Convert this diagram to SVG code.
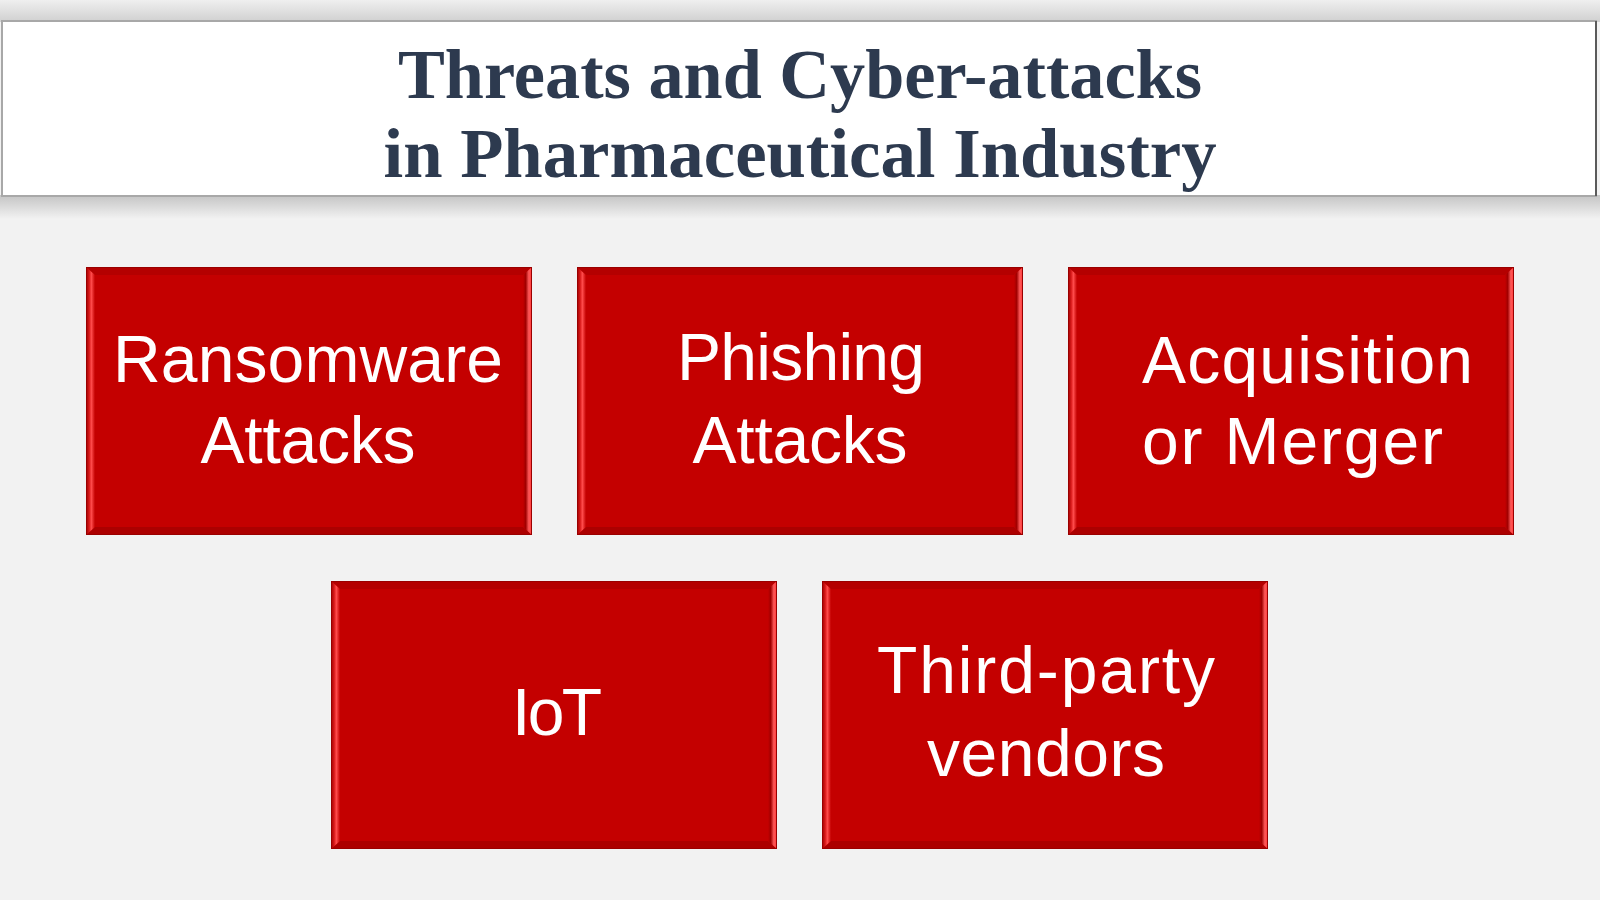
<svg xmlns="http://www.w3.org/2000/svg" xmlns:xlink="http://www.w3.org/1999/xlink" width="1600" height="900" viewBox="0 0 1600 900">
  <style>
    .title { font-family: "Liberation Serif", "Times New Roman", serif; font-weight: bold; font-size: 70px; fill: #2D3A4F; text-anchor: middle; }
    .lbl { font-family: "Liberation Sans", Arial, sans-serif; font-size: 66px; fill: #FFFFFF; text-anchor: middle; }
    .lbl-start { text-anchor: start; }
  </style>
  <defs>
    <linearGradient id="topShade" x1="0" y1="0" x2="0" y2="1">
      <stop offset="0" stop-color="#EFEFEF"/>
      <stop offset="1" stop-color="#D0D0D0"/>
    </linearGradient>
    <linearGradient id="botShade" x1="0" y1="0" x2="0" y2="1">
      <stop offset="0" stop-color="#C4C4C4"/>
      <stop offset="1" stop-color="#F2F2F2"/>
    </linearGradient>
    <linearGradient id="bevL" x1="0" y1="0" x2="1" y2="0">
      <stop offset="0" stop-color="#9C0000"/>
      <stop offset="0.35" stop-color="#D81818"/>
      <stop offset="0.6" stop-color="#FF4C4C"/>
      <stop offset="1" stop-color="#C40000"/>
    </linearGradient>
    <linearGradient id="bevR" x1="0" y1="0" x2="1" y2="0">
      <stop offset="0" stop-color="#C40000"/>
      <stop offset="0.3" stop-color="#A00000"/>
      <stop offset="0.65" stop-color="#FF5A5A"/>
      <stop offset="0.9" stop-color="#FF4040"/>
      <stop offset="1" stop-color="#B00000"/>
    </linearGradient>
    <symbol id="tile" viewBox="0 0 446 268" preserveAspectRatio="none">
      <rect x="0" y="0" width="446" height="268" fill="#C40000"/>
      <polygon points="0,0 446,0 437,8 9,8" fill="#B40000"/>
      <polygon points="0,268 446,268 437,260 9,260" fill="#AC0000"/>
      <polygon points="0,0 9,8 9,260 0,268" fill="url(#bevL)"/>
      <polygon points="446,0 437,8 437,260 446,268" fill="url(#bevR)"/>
      <rect x="0.5" y="0.5" width="445" height="267" fill="none" stroke="#9A0000" stroke-width="1"/>
    </symbol>
  </defs>

  <rect x="0" y="0" width="1600" height="900" fill="#F2F2F2"/>

  <g id="title">
    <rect x="0" y="0" width="1600" height="22" fill="url(#topShade)"/>
    <rect x="0" y="195" width="1600" height="24" fill="url(#botShade)"/>
    <rect x="2" y="21" width="1594" height="175" fill="#FFFFFF" stroke="#A8A8A8" stroke-width="2"/>
    <line x1="1596" y1="21" x2="1596" y2="196" stroke="#5A5A5A" stroke-width="2"/>
    <text class="title" x="800" y="98" textLength="804" lengthAdjust="spacingAndGlyphs">Threats and Cyber-attacks</text>
    <text class="title" x="800" y="177" textLength="833" lengthAdjust="spacingAndGlyphs">in Pharmaceutical Industry</text>
  </g>

  <g id="connectors"></g>

  <g id="node-ransomware">
    <use href="#tile" xlink:href="#tile" x="86" y="267" width="446" height="268"/>
    <text class="lbl" x="308" y="382" textLength="390">Ransomware</text>
    <text class="lbl" x="308" y="463" textLength="215">Attacks</text>
  </g>

  <g id="node-phishing">
    <use href="#tile" xlink:href="#tile" x="577" y="267" width="446" height="268"/>
    <text class="lbl" x="801" y="380" textLength="248">Phishing</text>
    <text class="lbl" x="800" y="463" textLength="215">Attacks</text>
  </g>

  <g id="node-acquisition">
    <use href="#tile" xlink:href="#tile" x="1068" y="267" width="446" height="268"/>
    <text class="lbl lbl-start" x="1142" y="383" textLength="331">Acquisition</text>
    <text class="lbl lbl-start" x="1142" y="464" textLength="301">or Merger</text>
  </g>

  <g id="node-iot">
    <use href="#tile" xlink:href="#tile" x="331" y="581" width="446" height="268"/>
    <text class="lbl" x="557" y="735" textLength="90">IoT</text>
  </g>

  <g id="node-third-party">
    <use href="#tile" xlink:href="#tile" x="822" y="581" width="446" height="268"/>
    <text class="lbl" x="1046" y="693" textLength="338">Third-party</text>
    <text class="lbl" x="1046" y="776" textLength="238">vendors</text>
  </g>
</svg>
